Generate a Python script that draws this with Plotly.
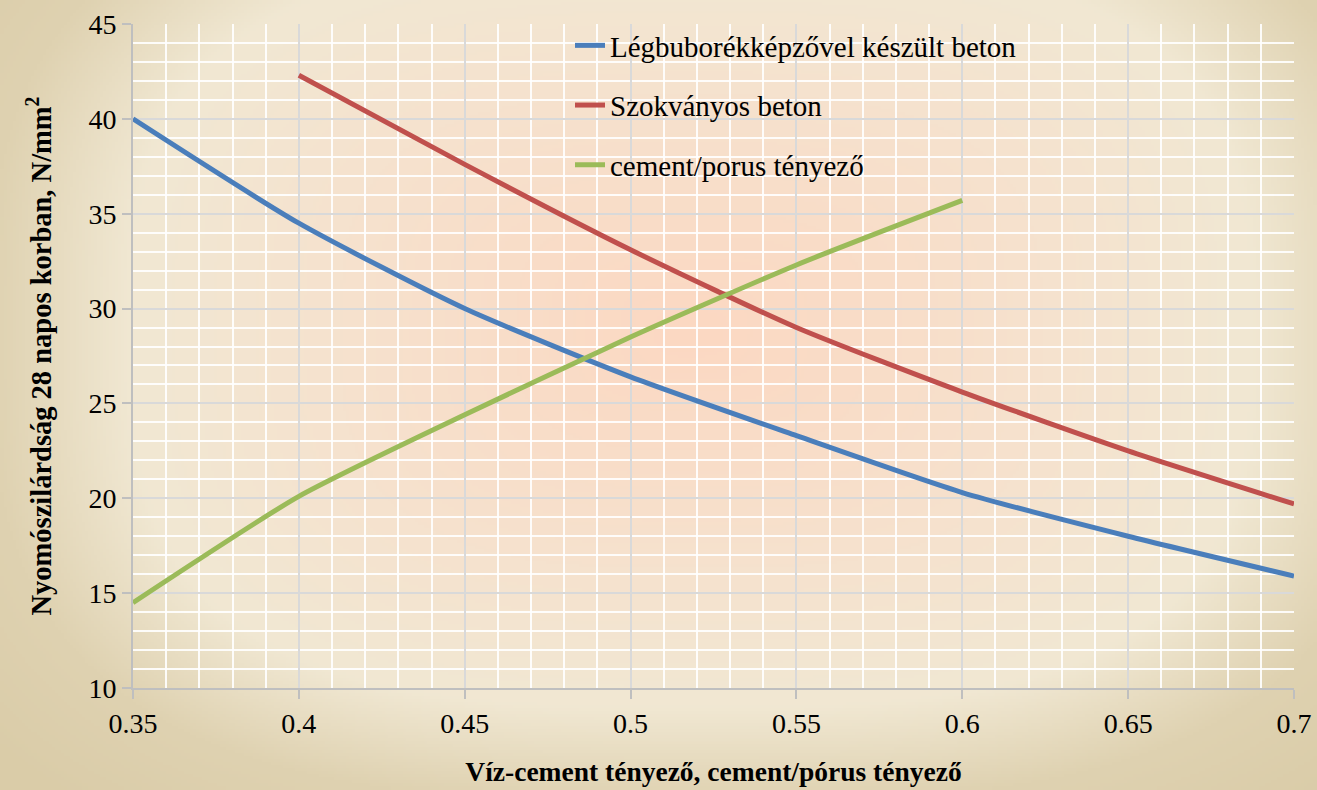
import base64
import struct
import zlib

import numpy as np
import plotly.graph_objects as go

# Water-cement ratio / cement-pore ratio
x_ratio = [0.35, 0.40, 0.45, 0.50, 0.55, 0.60, 0.65, 0.70]

# 28-day compressive strength, N/mm2
air_entrained = [40.0, 34.5, 30.0, 26.4, 23.3, 20.3, 18.0, 15.9]
x_standard = [0.40, 0.45, 0.50, 0.55, 0.60, 0.65, 0.70]
standard = [42.3, 37.6, 33.1, 29.0, 25.6, 22.5, 19.7]
x_cement_pore = [0.35, 0.40, 0.45, 0.50, 0.55, 0.60]
cement_pore = [14.5, 20.1, 24.4, 28.5, 32.3, 35.7]

series_names = ["Légbuborékképzővel készült beton", "Szokványos beton", "cement/porus tényező"]
series_colors = ["#4a7ebb", "#c0504d", "#9bbb59"]

x_title = "Víz-cement tényező, cement/pórus tényező"
y_title = "Nyomószilárdság 28 napos korban, N/mm<sup>2</sup>"

W, H = 1317, 790
FONT = "Times New Roman, Liberation Serif, Tinos, serif"


def gradient_png(w, h):
    """Rectangular-ish centre gradient: peach middle fading to tan edges."""
    ys, xs = np.mgrid[0:h, 0:w].astype(float)
    xs = xs * W / w
    ys = ys * H / h
    cx, cy, rx, ry = 690.0, 330.0, 700.0, 470.0
    p = 3.0
    d = ((np.abs(xs - cx) / rx) ** p + (np.abs(ys - cy) / ry) ** p) ** (1 / p)
    stops = [0.0, 0.5, 0.8, 1.0, 1.2]
    cols = np.array([
        [252, 216, 194],
        [246, 226, 206],
        [241, 232, 211],
        [223, 210, 177],
        [218, 204, 168],
    ], dtype=float)
    img = np.zeros((h, w, 3))
    for c in range(3):
        img[..., c] = np.interp(d, stops, cols[:, c])
    img = np.clip(img, 0, 255).astype(np.uint8)
    raw = b"".join(b"\x00" + img[r].tobytes() for r in range(h))

    def chunk(tag, data):
        body = tag + data
        return struct.pack(">I", len(data)) + body + struct.pack(">I", zlib.crc32(body) & 0xFFFFFFFF)

    png = b"\x89PNG\r\n\x1a\n"
    png += chunk(b"IHDR", struct.pack(">IIBBBBB", w, h, 8, 2, 0, 0, 0))
    png += chunk(b"IDAT", zlib.compress(raw, 9))
    png += chunk(b"IEND", b"")
    return "data:image/png;base64," + base64.b64encode(png).decode()


fig = go.Figure()
series = [
    (x_ratio, air_entrained),
    (x_standard, standard),
    (x_cement_pore, cement_pore),
]
for i, ((xs, ys), name, color) in enumerate(zip(series, series_names, series_colors)):
    fig.add_trace(go.Scatter(
        x=xs, y=ys, name=name, mode="lines",
        line=dict(color=color, width=5, shape="spline", smoothing=0.6),
        legendgroup=f"g{i}",
    ))

fig.update_layout(
    width=W, height=H,
    margin=dict(l=0, r=0, t=0, b=0, autoexpand=False),
    paper_bgcolor="rgba(0,0,0,0)",
    plot_bgcolor="rgba(0,0,0,0)",
    font=dict(family=FONT, color="#000000", size=28),
    showlegend=True,
    legend=dict(
        x=570 / W, y=1 - 20 / H, xanchor="left", yanchor="top",
        bgcolor="rgba(0,0,0,0)",
        font=dict(family=FONT, size=29),
        traceorder="grouped", tracegroupgap=19,
        itemwidth=30,
    ),
    images=[dict(
        source=gradient_png(440, 264), xref="paper", yref="paper",
        x=0, y=1, sizex=1, sizey=1, xanchor="left", yanchor="top",
        sizing="stretch", layer="below",
    )],
)

fig.update_xaxes(
    domain=[133 / W, 1294 / W],
    range=[0.35, 0.70], dtick=0.05, tick0=0.35,
    tickformat="~g",
    showgrid=True, gridcolor="#d9d9d9", gridwidth=1.5,
    minor=dict(dtick=0.01, showgrid=True, gridcolor="rgba(255,255,255,0.9)", gridwidth=1.5),
    showline=True, linecolor="#bfbfbf", linewidth=2,
    ticks="outside", ticklen=9, tickcolor="#bfbfbf", tickwidth=1.5,
    tickfont=dict(family=FONT, size=28),
    zeroline=False, automargin=False,
    title=dict(text=f"<b>{x_title}</b>", font=dict(family=FONT, size=27.5), standoff=24),
)
fig.update_yaxes(
    domain=[1 - 688 / H, 1 - 24 / H],
    range=[10, 45], dtick=5, tick0=10,
    showgrid=True, gridcolor="#d9d9d9", gridwidth=1.5,
    minor=dict(dtick=1, showgrid=True, gridcolor="rgba(255,255,255,0.9)", gridwidth=1.5),
    showline=True, linecolor="#bfbfbf", linewidth=2,
    ticks="outside", ticklen=9, tickcolor="#bfbfbf", tickwidth=1.5,
    tickfont=dict(family=FONT, size=28),
    zeroline=False, automargin=False,
    title=dict(text=f"<b>{y_title}</b>", font=dict(family=FONT, size=28.5), standoff=28),
)

fig.write_html("out.html")
